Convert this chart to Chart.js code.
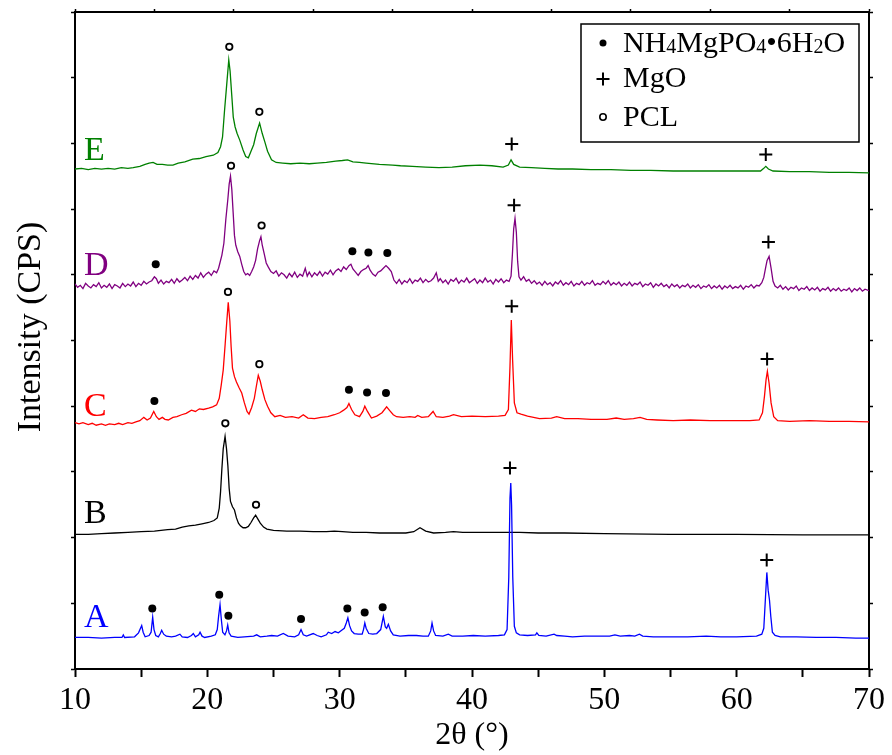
<!DOCTYPE html>
<html>
<head>
<meta charset="utf-8">
<script src="https://cdn.jsdelivr.net/npm/chart.js@4.4.0/dist/chart.umd.min.js"></script>
<style>
body { margin: 0; background: #fff; }
canvas { display: block; }
</style>
</head>
<body>
<canvas id="xrdChart" width="892" height="755"></canvas>
<script>
// [2theta, intensity], each pattern already offset for stacking
var patternA = [[10,0.48],[11,0.48],[12,0.47],[13,0.48],[13.55,0.48],[13.65,0.52],[13.75,0.48],[14.5,0.49],[14.8,0.55],[14.95,0.62],[15.04,0.66],[15.15,0.56],[15.3,0.49],[15.6,0.51],[15.75,0.56],[15.87,0.79],[15.97,0.6],[16.1,0.51],[16.3,0.49],[16.45,0.54],[16.55,0.59],[16.7,0.53],[16.9,0.5],[17.3,0.49],[17.6,0.5],[17.93,0.53],[18.1,0.49],[18.5,0.48],[18.8,0.51],[18.94,0.54],[19.1,0.49],[19.35,0.52],[19.45,0.56],[19.6,0.5],[19.8,0.48],[20.3,0.5],[20.6,0.52],[20.75,0.6],[20.85,0.8],[20.96,0.98],[21.06,0.75],[21.16,0.56],[21.33,0.52],[21.45,0.58],[21.54,0.67],[21.64,0.55],[21.8,0.5],[22.3,0.48],[22.8,0.49],[23.5,0.5],[23.73,0.52],[24,0.49],[24.5,0.5],[24.86,0.51],[25.3,0.5],[25.74,0.54],[26.1,0.5],[26.6,0.49],[26.9,0.52],[27.08,0.6],[27.25,0.52],[27.5,0.5],[28,0.54],[28.3,0.51],[28.6,0.49],[29,0.52],[29.14,0.56],[29.4,0.54],[29.65,0.57],[29.9,0.55],[30.15,0.59],[30.35,0.62],[30.5,0.7],[30.62,0.78],[30.75,0.66],[30.9,0.58],[31.1,0.54],[31.4,0.53],[31.7,0.53],[31.8,0.6],[31.9,0.7],[32,0.62],[32.2,0.54],[32.5,0.53],[32.8,0.54],[33.1,0.6],[33.3,0.8],[33.45,0.64],[33.55,0.62],[33.68,0.68],[33.85,0.58],[34.05,0.52],[34.56,0.5],[35.2,0.51],[35.8,0.51],[36.3,0.5],[36.7,0.5],[36.88,0.58],[36.98,0.7],[37.1,0.58],[37.25,0.51],[37.8,0.5],[38.21,0.53],[38.5,0.5],[39.3,0.5],[40.1,0.51],[41,0.5],[42,0.51],[42.45,0.52],[42.65,0.6],[42.78,1.4],[42.87,2.6],[42.93,2.83],[42.99,2.5],[43.08,1.4],[43.2,0.65],[43.35,0.55],[43.6,0.52],[44.2,0.51],[44.8,0.52],[44.9,0.55],[45.05,0.51],[45.6,0.5],[46.2,0.53],[46.4,0.51],[47,0.5],[47.6,0.49],[48.5,0.5],[49.5,0.5],[50.4,0.5],[50.8,0.52],[51.2,0.5],[51.9,0.51],[52.3,0.5],[52.65,0.53],[52.9,0.5],[53.7,0.49],[55.2,0.49],[56.3,0.49],[57.7,0.5],[58.8,0.49],[60,0.49],[61.5,0.5],[61.9,0.53],[62.05,0.62],[62.18,1.1],[62.28,1.47],[62.38,1.2],[62.48,1.05],[62.58,0.8],[62.7,0.56],[62.9,0.51],[63.3,0.49],[64.5,0.49],[66,0.48],[67.5,0.48],[69,0.47],[70,0.47]];

var patternB = [[10,2.05],[11,2.05],[12,2.06],[13,2.07],[14,2.08],[15,2.09],[16,2.1],[17,2.12],[17.6,2.13],[18.1,2.16],[18.6,2.18],[19.1,2.19],[19.6,2.21],[20.1,2.23],[20.5,2.26],[20.75,2.3],[20.9,2.45],[21,2.7],[21.1,3.05],[21.2,3.35],[21.34,3.54],[21.45,3.35],[21.55,3.1],[21.65,2.75],[21.75,2.55],[21.9,2.47],[22.05,2.42],[22.2,2.3],[22.35,2.22],[22.5,2.18],[22.7,2.15],[22.9,2.15],[23.1,2.17],[23.3,2.23],[23.5,2.3],[23.65,2.34],[23.8,2.29],[24,2.22],[24.25,2.16],[24.5,2.13],[25,2.11],[26,2.1],[27,2.1],[28,2.09],[29,2.09],[29.6,2.1],[30.2,2.09],[31,2.08],[32,2.08],[33,2.07],[34,2.07],[35,2.07],[35.6,2.09],[36.07,2.15],[36.5,2.1],[37.1,2.07],[38,2.08],[38.6,2.09],[39.3,2.08],[40.1,2.08],[41,2.08],[42,2.08],[43.6,2.08],[45,2.07],[47,2.07],[50,2.06],[55,2.05],[60,2.05],[65,2.04],[70,2.04]];

var patternC = [[10,3.75],[10.3,3.73],[10.6,3.75],[11,3.72],[11.3,3.74],[11.6,3.71],[12,3.73],[12.3,3.71],[12.6,3.73],[13,3.72],[13.3,3.74],[13.6,3.72],[14,3.75],[14.3,3.74],[14.6,3.76],[14.9,3.78],[15.2,3.83],[15.45,3.79],[15.7,3.82],[15.95,3.92],[16.15,3.84],[16.35,3.8],[16.6,3.83],[16.8,3.8],[17.05,3.79],[17.4,3.83],[17.7,3.84],[18.06,3.87],[18.4,3.89],[18.8,3.94],[19.1,3.92],[19.4,3.96],[19.7,3.95],[20.1,3.97],[20.4,3.99],[20.7,4.02],[20.9,4.12],[21.05,4.32],[21.2,4.55],[21.35,4.95],[21.46,5.26],[21.58,5.58],[21.7,5.3],[21.8,4.9],[21.9,4.58],[22.05,4.45],[22.2,4.37],[22.4,4.28],[22.6,4.2],[22.8,4.05],[23,3.92],[23.15,3.88],[23.35,3.98],[23.55,4.12],[23.7,4.3],[23.85,4.47],[24,4.38],[24.15,4.25],[24.35,4.1],[24.55,4],[24.8,3.9],[25.1,3.84],[25.5,3.86],[25.9,3.83],[26.4,3.84],[26.9,3.82],[27.25,3.87],[27.6,3.82],[28.1,3.81],[28.6,3.83],[29.1,3.84],[29.6,3.87],[30,3.9],[30.3,3.94],[30.55,3.98],[30.7,4.04],[30.9,3.95],[31.15,3.87],[31.5,3.84],[31.75,3.92],[31.9,4],[32.1,3.92],[32.4,3.82],[32.8,3.85],[33.2,3.9],[33.55,3.99],[33.8,3.93],[34.05,3.87],[34.3,3.84],[34.8,3.83],[35.3,3.84],[35.7,3.83],[35.9,3.86],[36.2,3.83],[36.7,3.84],[37.06,3.92],[37.3,3.84],[37.8,3.83],[38.3,3.85],[38.6,3.87],[39.2,3.84],[40,3.85],[41,3.84],[42,3.85],[42.5,3.86],[42.75,3.95],[42.87,4.6],[42.97,5.31],[43.07,4.7],[43.2,4.05],[43.4,3.9],[43.7,3.88],[44.2,3.85],[45.1,3.81],[46,3.82],[46.4,3.84],[47,3.81],[48,3.81],[49,3.8],[50.2,3.8],[50.9,3.82],[51.5,3.8],[52.2,3.81],[52.7,3.83],[53.2,3.8],[54,3.79],[55.2,3.78],[56.5,3.79],[58,3.78],[59.5,3.78],[61,3.78],[61.7,3.79],[61.95,3.9],[62.1,4.15],[62.22,4.4],[62.32,4.53],[62.45,4.35],[62.6,4.05],[62.8,3.84],[63.1,3.78],[64,3.77],[65.5,3.78],[67,3.77],[68.5,3.77],[70,3.76]];

var patternD = [[10,5.86],[10.2,5.81],[10.4,5.84],[10.6,5.79],[10.8,5.87],[11,5.83],[11.2,5.8],[11.4,5.85],[11.6,5.82],[11.8,5.88],[12,5.8],[12.2,5.84],[12.4,5.81],[12.6,5.86],[12.8,5.79],[13,5.85],[13.2,5.83],[13.4,5.8],[13.6,5.87],[13.8,5.82],[14,5.86],[14.2,5.83],[14.4,5.89],[14.6,5.82],[14.8,5.87],[15,5.84],[15.2,5.9],[15.4,5.86],[15.6,5.89],[15.8,5.91],[16,5.97],[16.15,5.94],[16.3,5.87],[16.5,5.92],[16.7,5.86],[16.9,5.9],[17.1,5.88],[17.3,5.93],[17.5,5.87],[17.7,5.94],[17.9,5.89],[18.1,5.92],[18.3,5.96],[18.5,5.91],[18.7,5.98],[18.9,5.93],[19.1,5.99],[19.3,5.95],[19.5,6.03],[19.7,5.96],[19.9,6.01],[20.1,6.04],[20.3,5.99],[20.5,6.06],[20.7,6.03],[20.85,6.1],[20.95,6.18],[21.1,6.3],[21.25,6.48],[21.4,6.85],[21.55,7.15],[21.65,7.38],[21.75,7.5],[21.85,7.3],[21.95,6.95],[22.05,6.6],[22.15,6.45],[22.3,6.35],[22.45,6.28],[22.6,6.16],[22.75,6.05],[22.9,6],[23.05,6.02],[23.2,5.99],[23.35,6.05],[23.5,6.12],[23.65,6.22],[23.8,6.4],[23.95,6.52],[24.05,6.58],[24.15,6.45],[24.3,6.32],[24.45,6.18],[24.6,6.12],[24.8,6.05],[25,6.02],[25.2,6.06],[25.4,5.98],[25.6,6.03],[25.8,6],[26,5.95],[26.2,6.02],[26.4,5.97],[26.6,6.04],[26.8,5.96],[27,6.01],[27.2,5.98],[27.4,6.1],[27.55,5.98],[27.7,6.04],[27.9,5.97],[28.1,6.03],[28.3,5.99],[28.5,6.05],[28.7,5.98],[28.9,6.04],[29.1,6.01],[29.3,6.07],[29.5,6],[29.7,6.06],[29.9,6.09],[30.1,6.05],[30.3,6.12],[30.5,6.08],[30.7,6.14],[30.85,6.16],[31,6.09],[31.2,6.04],[31.4,5.99],[31.6,6.05],[31.8,6.08],[32,6.1],[32.15,6.14],[32.3,6.07],[32.5,6.01],[32.7,5.98],[32.9,6.04],[33.1,6.06],[33.3,6.1],[33.5,6.14],[33.7,6.1],[33.9,6.05],[34.1,5.92],[34.3,5.87],[34.5,5.93],[34.7,5.86],[34.9,5.91],[35.1,5.88],[35.3,5.94],[35.5,5.87],[35.7,5.92],[35.9,5.9],[36.1,5.95],[36.3,5.88],[36.5,5.93],[36.7,5.89],[36.9,5.91],[37.1,5.95],[37.3,6.03],[37.45,5.9],[37.6,5.94],[37.8,5.88],[38,5.92],[38.2,5.86],[38.4,5.93],[38.6,5.9],[38.8,5.95],[39,5.87],[39.2,5.92],[39.4,5.89],[39.6,5.95],[39.8,5.88],[40,5.91],[40.2,5.94],[40.4,5.87],[40.6,5.92],[40.8,5.88],[41,5.95],[41.2,5.89],[41.4,5.92],[41.6,5.86],[41.8,5.93],[42,5.89],[42.2,5.94],[42.4,5.88],[42.6,5.92],[42.8,5.9],[42.95,5.98],[43.05,6.3],[43.15,6.7],[43.25,6.86],[43.35,6.65],[43.45,6.2],[43.55,5.97],[43.7,5.92],[43.9,5.97],[44.1,5.9],[44.3,5.93],[44.5,5.87],[44.7,5.91],[44.9,5.86],[45.1,5.89],[45.3,5.84],[45.5,5.9],[45.7,5.85],[45.9,5.88],[46.1,5.83],[46.3,5.89],[46.5,5.86],[46.7,5.91],[46.9,5.84],[47.1,5.88],[47.3,5.85],[47.5,5.9],[47.7,5.83],[47.9,5.87],[48.1,5.85],[48.3,5.9],[48.5,5.84],[48.7,5.88],[48.9,5.86],[49.1,5.91],[49.3,5.84],[49.5,5.87],[49.7,5.85],[49.9,5.9],[50.1,5.86],[50.3,5.91],[50.5,5.84],[50.7,5.88],[50.9,5.85],[51.1,5.89],[51.3,5.83],[51.5,5.87],[51.7,5.84],[51.9,5.89],[52.1,5.83],[52.3,5.87],[52.5,5.85],[52.7,5.89],[52.9,5.82],[53.1,5.86],[53.3,5.84],[53.5,5.88],[53.7,5.81],[53.9,5.86],[54.1,5.83],[54.3,5.87],[54.5,5.82],[54.7,5.85],[54.9,5.8],[55.1,5.86],[55.3,5.82],[55.5,5.85],[55.7,5.8],[55.9,5.84],[56.1,5.82],[56.3,5.86],[56.5,5.8],[56.7,5.84],[56.9,5.81],[57.1,5.85],[57.3,5.79],[57.5,5.83],[57.7,5.81],[57.9,5.85],[58.1,5.79],[58.3,5.83],[58.5,5.8],[58.7,5.84],[58.9,5.78],[59.1,5.83],[59.3,5.8],[59.5,5.84],[59.7,5.79],[59.9,5.82],[60.1,5.8],[60.3,5.84],[60.5,5.78],[60.7,5.83],[60.9,5.81],[61.1,5.85],[61.3,5.8],[61.5,5.84],[61.7,5.83],[61.9,5.88],[62.05,5.96],[62.2,6.12],[62.3,6.22],[62.45,6.28],[62.6,6.1],[62.75,5.9],[62.9,5.83],[63.1,5.8],[63.3,5.84],[63.5,5.78],[63.7,5.82],[63.9,5.77],[64.1,5.81],[64.3,5.79],[64.5,5.83],[64.7,5.76],[64.9,5.8],[65.1,5.78],[65.3,5.82],[65.5,5.76],[65.7,5.8],[65.9,5.77],[66.1,5.81],[66.3,5.75],[66.5,5.79],[66.7,5.77],[66.9,5.81],[67.1,5.75],[67.3,5.79],[67.5,5.76],[67.7,5.8],[67.9,5.75],[68.1,5.78],[68.3,5.76],[68.5,5.8],[68.7,5.74],[68.9,5.79],[69.1,5.76],[69.3,5.8],[69.5,5.75],[69.7,5.78],[70,5.76]];

var patternE = [[10,7.61],[10.5,7.62],[11,7.6],[11.5,7.62],[12,7.61],[12.5,7.62],[13,7.61],[13.5,7.63],[14,7.62],[14.4,7.63],[14.9,7.65],[15.3,7.68],[15.6,7.7],[15.9,7.71],[16.2,7.68],[16.6,7.68],[17,7.67],[17.4,7.67],[17.8,7.7],[18.3,7.72],[18.9,7.76],[19.4,7.77],[19.9,7.8],[20.45,7.82],[20.8,7.86],[21,7.95],[21.15,8.1],[21.3,8.5],[21.45,8.86],[21.62,9.27],[21.72,9.1],[21.84,8.75],[21.96,8.4],[22.1,8.25],[22.25,8.15],[22.45,8.05],[22.7,7.9],[22.9,7.8],[23.1,7.78],[23.3,7.88],[23.5,7.98],[23.7,8.15],[23.95,8.31],[24.15,8.15],[24.35,8.02],[24.55,7.88],[24.85,7.75],[25.2,7.71],[25.7,7.7],[26.3,7.69],[27,7.7],[27.7,7.69],[28.3,7.7],[29,7.71],[29.7,7.73],[30.2,7.74],[30.6,7.75],[31,7.72],[31.5,7.71],[32,7.7],[33,7.68],[34,7.67],[34.6,7.66],[35.5,7.65],[36.5,7.64],[37.5,7.63],[38.5,7.64],[39.5,7.66],[40.6,7.67],[41.5,7.66],[42.35,7.64],[42.75,7.67],[42.95,7.75],[43.15,7.68],[43.6,7.64],[44.5,7.63],[45.5,7.62],[46.5,7.61],[47.6,7.61],[49,7.6],[50.5,7.6],[52,7.59],[53.5,7.59],[55.2,7.58],[57,7.58],[59,7.58],[60.5,7.58],[61.8,7.58],[62.05,7.62],[62.2,7.65],[62.4,7.61],[62.75,7.58],[64,7.57],[65.5,7.57],[67,7.56],[68.5,7.56],[70,7.55]];

// phase markers placed above the peaks
var markStruvite = [[15.84,0.92],[20.9,1.13],[21.59,0.81],[27.08,0.76],[30.58,0.92],[31.89,0.86],[33.25,0.94],[16.0,4.08],[30.7,4.25],[32.07,4.21],[33.5,4.2],[16.1,6.16],[30.96,6.36],[32.17,6.34],[33.6,6.33]];
var markMgO = [[42.87,3.06],[62.27,1.66],[43.0,5.52],[62.3,4.72],[43.18,7.06],[62.4,6.5],[43.0,7.99],[62.2,7.83]];
var markPCL = [[21.36,3.74],[23.68,2.5],[21.56,5.74],[23.93,4.64],[21.79,7.66],[24.1,6.75],[21.66,9.47],[23.93,8.48]];

var sampleNames = ['A', 'B', 'C', 'D', 'E'];
var sampleColors = ['#0000ff', '#000000', '#ff0000', '#800080', '#008000'];
var xTicks = [10, 20, 30, 40, 50, 60, 70];

var serif = '"Liberation Serif", "Times New Roman", serif';

function toPoints(pairs) {
    return pairs.map(function (p) { return { x: p[0], y: p[1] }; });
}

var datasets = [patternA, patternB, patternC, patternD, patternE].map(function (p, i) {
    return {
        label: sampleNames[i],
        data: toPoints(p),
        borderColor: sampleColors[i],
        borderWidth: 1.3,
        pointRadius: 0,
        tension: 0,
        fill: false
    };
});

datasets.push({
    type: 'scatter', label: 'NH4MgPO4·6H2O', data: toPoints(markStruvite),
    pointStyle: 'circle', pointRadius: 4, backgroundColor: '#000', borderColor: '#000', borderWidth: 0
});
datasets.push({
    type: 'scatter', label: 'MgO', data: toPoints(markMgO),
    pointStyle: 'cross', pointRadius: 6.5, borderColor: '#000', borderWidth: 2
});
datasets.push({
    type: 'scatter', label: 'PCL', data: toPoints(markPCL),
    pointStyle: 'circle', pointRadius: 3.2, backgroundColor: '#fff', borderColor: '#000', borderWidth: 1.8
});

// letters next to each pattern, the rotated y title and the legend box
var annotate = {
    id: 'annotate',
    afterDraw: function (chart) {
        var ctx = chart.ctx;
        var xs = chart.scales.x, ys = chart.scales.y;
        var area = chart.chartArea;
        var letterBase = [0.64, 2.22, 3.85, 6.0, 7.75];
        ctx.save();
        ctx.font = '34px ' + serif;
        ctx.textAlign = 'left';
        ctx.textBaseline = 'alphabetic';
        sampleNames.forEach(function (n, i) {
            ctx.fillStyle = sampleColors[i];
            ctx.fillText(n, xs.getPixelForValue(10.68), ys.getPixelForValue(letterBase[i]));
        });

        // y title
        ctx.save();
        ctx.translate(31, 327);
        ctx.rotate(-Math.PI / 2);
        ctx.fillStyle = '#000';
        ctx.textAlign = 'center';
        ctx.textBaseline = 'middle';
        ctx.font = '34px ' + serif;
        ctx.fillText('Intensity (CPS)', 0, 0);
        ctx.restore();

        // legend
        var bx = area.right - 288, by = area.top + 12, bw = 278, bh = 118;
        ctx.strokeStyle = '#000';
        ctx.lineWidth = 1.5;
        ctx.strokeRect(bx, by, bw, bh);

        var sx = bx + 22, tx = bx + 42;
        var rows = [by + 28, by + 63, by + 102];
        ctx.fillStyle = '#000';
        ctx.beginPath();
        ctx.arc(sx, rows[0] - 9, 3.5, 0, Math.PI * 2);
        ctx.fill();
        ctx.lineWidth = 2;
        ctx.beginPath();
        ctx.moveTo(sx - 6.5, rows[1] - 8); ctx.lineTo(sx + 6.5, rows[1] - 8);
        ctx.moveTo(sx, rows[1] - 14.5); ctx.lineTo(sx, rows[1] - 1.5);
        ctx.stroke();
        ctx.lineWidth = 1.6;
        ctx.beginPath();
        ctx.arc(sx, rows[2] - 9, 3.2, 0, Math.PI * 2);
        ctx.stroke();

        var big = '30px ' + serif, small = '20px ' + serif;
        var parts = [['NH', big], ['4', small], ['MgPO', big], ['4', small], ['\u20226H', big], ['2', small], ['O', big]];
        var cx = tx;
        ctx.textAlign = 'left';
        ctx.textBaseline = 'alphabetic';
        parts.forEach(function (p) {
            ctx.font = p[1];
            ctx.fillText(p[0], cx, rows[0] + (p[1] === small ? 1 : 0));
            cx += ctx.measureText(p[0]).width;
        });
        ctx.font = big;
        ctx.fillText('MgO', tx, rows[1]);
        ctx.fillText('PCL', tx, rows[2]);
        ctx.restore();
    }
};

var ctx = document.getElementById('xrdChart').getContext('2d');

var xrdChart = new Chart(ctx, {
    type: 'line',
    data: { datasets: datasets },
    plugins: [annotate],
    options: {
        responsive: false,
        animation: false,
        events: [],
        layout: { padding: 0 },
        plugins: {
            legend: { display: false },
            tooltip: { enabled: false }
        },
        scales: {
            x: {
                type: 'linear', position: 'bottom', min: 10, max: 70,
                afterFit: function (s) { s.height = 86; },
                ticks: {
                    stepSize: 5, color: '#000', padding: 4, maxRotation: 0,
                    font: { family: serif, size: 32 },
                    callback: function (v) { return xTicks.indexOf(v) >= 0 ? v : ''; }
                },
                grid: { drawOnChartArea: false, tickLength: 8, tickWidth: 2, tickColor: '#000' },
                border: { color: '#000', width: 2 },
                title: { display: true, text: '2\u03b8 (\u00b0)', color: '#000', font: { family: serif, size: 32 }, padding: 0 }
            },
            xTop: {
                type: 'linear', position: 'top', min: 10, max: 70,
                afterFit: function (s) { s.height = 12; },
                ticks: { stepSize: 6, callback: function () { return ''; } },
                grid: { drawOnChartArea: false, tickLength: 3, tickWidth: 1.5, tickColor: '#000' },
                border: { color: '#000', width: 2 }
            },
            y: {
                type: 'linear', position: 'left', min: 0, max: 10,
                afterFit: function (s) { s.width = 75; },
                ticks: { stepSize: 1, callback: function () { return ''; } },
                grid: { drawOnChartArea: false, tickLength: 4, tickWidth: 1.5, tickColor: '#000' },
                border: { color: '#000', width: 2 }
            },
            yRight: {
                type: 'linear', position: 'right', min: 0, max: 10,
                afterFit: function (s) { s.width = 23; },
                ticks: { stepSize: 1, callback: function () { return ''; } },
                grid: { drawOnChartArea: false, tickLength: 4, tickWidth: 1.5, tickColor: '#000' },
                border: { color: '#000', width: 2 }
            }
        }
    }
});
</script>
</body>
</html>
